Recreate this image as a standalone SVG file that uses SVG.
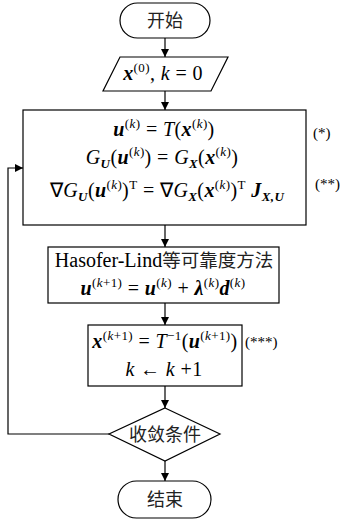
<svg xmlns="http://www.w3.org/2000/svg" width="342" height="521" viewBox="0 0 342 521">
<style>
.sh{fill:#fff;stroke:#000;stroke-width:1.2}
.ln{fill:none;stroke:#000;stroke-width:1.2}
.cn{font-family:"Noto Sans CJK SC",sans-serif;font-size:18px;fill:#222;text-anchor:middle}
.m{font-family:"Liberation Serif","Times New Roman",serif;font-size:20px;fill:#000;text-anchor:middle;letter-spacing:0.4px}
.lb{font-family:"Liberation Serif","Times New Roman",serif;font-size:15px;fill:#000}
.i{font-style:italic}
.bi{font-style:italic;font-weight:bold}
.s{font-size:13px}
</style>
<defs>
<marker id="ah" viewBox="0 0 10 10" refX="10" refY="5" markerWidth="8" markerHeight="9" markerUnits="userSpaceOnUse" orient="auto"><path d="M0,0 L10,5 L0,10 z" fill="#000"/></marker>
</defs>
<g id="connectors">
<line class="ln" x1="165" y1="38" x2="165" y2="57" marker-end="url(#ah)"/>
<line class="ln" x1="165" y1="91" x2="165" y2="110" marker-end="url(#ah)"/>
<line class="ln" x1="165" y1="225" x2="165" y2="247" marker-end="url(#ah)"/>
<line class="ln" x1="165" y1="303" x2="165" y2="325" marker-end="url(#ah)"/>
<line class="ln" x1="165" y1="386" x2="165" y2="408" marker-end="url(#ah)"/>
<line class="ln" x1="165" y1="461" x2="165" y2="481" marker-end="url(#ah)"/>
<polyline class="ln" points="109,434 8,434 8,168 23,168" marker-end="url(#ah)"/>
</g>
<g id="start">
<rect class="sh" x="120" y="3" width="90" height="35" rx="17.5"/>
<text class="cn" x="165" y="27">开始</text>
</g>
<g id="init">
<polygon class="sh" points="120,57 228,57 211,91 103,91"/>
<text class="m" x="163" y="80"><tspan class="bi">x</tspan><tspan class="s" dy="-8">(0)</tspan><tspan dy="8">, </tspan><tspan class="i">k</tspan> = 0</text>
</g>
<g id="transform">
<rect class="sh" x="23" y="110" width="283" height="115"/>
<text class="m" x="164" y="136"><tspan class="bi">u</tspan><tspan class="s" dy="-8">(</tspan><tspan class="s i">k</tspan><tspan class="s">)</tspan><tspan dy="8"> = </tspan><tspan class="i">T</tspan><tspan>(</tspan><tspan class="bi">x</tspan><tspan class="s" dy="-8">(</tspan><tspan class="s i">k</tspan><tspan class="s">)</tspan><tspan dy="8">)</tspan></text>
<text class="m" x="162" y="164"><tspan class="i">G</tspan><tspan class="s bi" dy="4">U</tspan><tspan dy="-4">(</tspan><tspan class="bi">u</tspan><tspan class="s" dy="-8">(</tspan><tspan class="s i">k</tspan><tspan class="s">)</tspan><tspan dy="8">) = </tspan><tspan class="i">G</tspan><tspan class="s bi" dy="4">X</tspan><tspan dy="-4">(</tspan><tspan class="bi">x</tspan><tspan class="s" dy="-8">(</tspan><tspan class="s i">k</tspan><tspan class="s">)</tspan><tspan dy="8">)</tspan></text>
<text class="m" x="167" y="197">∇<tspan class="i">G</tspan><tspan class="s bi" dy="4">U</tspan><tspan dy="-4">(</tspan><tspan class="bi">u</tspan><tspan class="s" dy="-8">(</tspan><tspan class="s i">k</tspan><tspan class="s">)</tspan><tspan dy="8">)</tspan><tspan class="s" dy="-8">T</tspan><tspan dy="8"> = ∇</tspan><tspan class="i">G</tspan><tspan class="s bi" dy="4">X</tspan><tspan dy="-4">(</tspan><tspan class="bi">x</tspan><tspan class="s" dy="-8">(</tspan><tspan class="s i">k</tspan><tspan class="s">)</tspan><tspan dy="8">)</tspan><tspan class="s" dy="-8">T</tspan><tspan class="bi" dy="8"> J</tspan><tspan class="s bi" dy="4">X,U</tspan></text>
<text class="lb" x="313" y="138">(*)</text>
<text class="lb" x="315" y="189">(**)</text>
</g>
<g id="hasofer">
<rect class="sh" x="48" y="247" width="231" height="56"/>
<text class="m" x="164" y="267" style="letter-spacing:0"><tspan>Hasofer-Lind</tspan><tspan style="font-family:'Noto Sans CJK SC',sans-serif;font-size:18.5px;fill:#222">等可靠度方法</tspan></text>
<text class="m" x="163" y="295"><tspan class="bi">u</tspan><tspan class="s" dy="-8">(</tspan><tspan class="s i">k</tspan><tspan class="s">+1)</tspan><tspan dy="8"> = </tspan><tspan class="bi">u</tspan><tspan class="s" dy="-8">(</tspan><tspan class="s i">k</tspan><tspan class="s">)</tspan><tspan dy="8"> + </tspan><tspan class="bi">λ</tspan><tspan class="s" dy="-8">(</tspan><tspan class="s i">k</tspan><tspan class="s">)</tspan><tspan class="bi" dy="8">d</tspan><tspan class="s" dy="-8">(</tspan><tspan class="s i">k</tspan><tspan class="s">)</tspan></text>
</g>
<g id="update">
<rect class="sh" x="88" y="325" width="154" height="61"/>
<text class="m" x="165" y="348"><tspan class="bi">x</tspan><tspan class="s" dy="-8">(</tspan><tspan class="s i">k</tspan><tspan class="s">+1)</tspan><tspan dy="8"> = </tspan><tspan class="i">T</tspan><tspan class="s" dy="-8">−1</tspan><tspan dy="8">(</tspan><tspan class="bi">u</tspan><tspan class="s" dy="-8">(</tspan><tspan class="s i">k</tspan><tspan class="s">+1)</tspan><tspan dy="8">)</tspan></text>
<text class="m" x="164" y="376"><tspan class="i">k</tspan> ← <tspan class="i">k</tspan> +1</text>
<text class="lb" x="245" y="347">(***)</text>
</g>
<g id="converge">
<polygon class="sh" points="165,408 220,434 165,461 109,434"/>
<text class="cn" x="165" y="441">收敛条件</text>
</g>
<g id="end">
<rect class="sh" x="118" y="481" width="93" height="37" rx="18.5"/>
<text class="cn" x="165" y="506">结束</text>
</g>
</svg>
